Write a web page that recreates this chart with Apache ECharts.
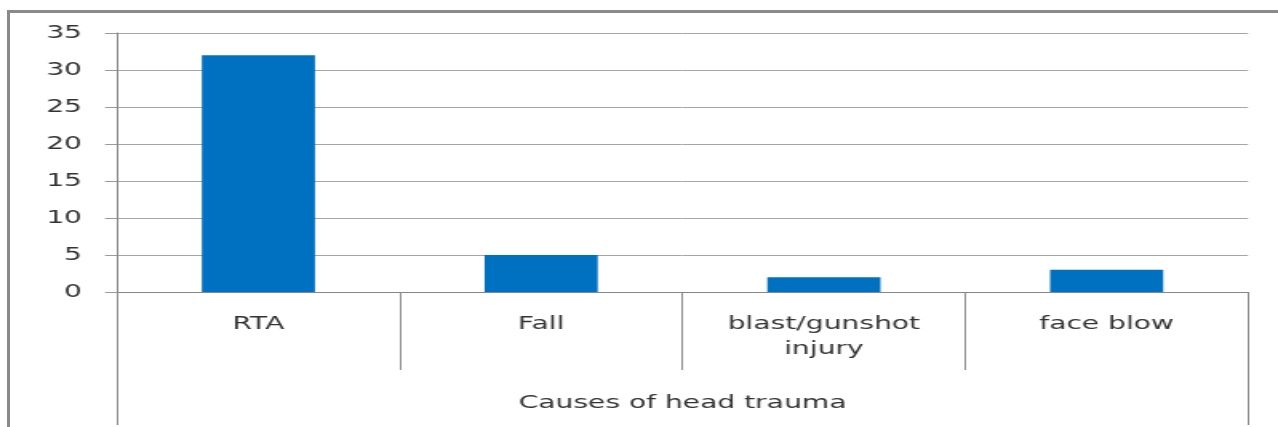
<!DOCTYPE html>
<html>
<head>
<meta charset="utf-8">
<script src="https://cdn.jsdelivr.net/npm/echarts@6/dist/echarts.min.js"></script>
<style>
html,body{margin:0;padding:0;background:#fff;overflow:hidden;width:1278px;height:427px;}
#frame{position:absolute;left:7px;top:10px;width:1280px;height:430px;border-left:3px solid #8a8a8a;border-top:3px solid #8a8a8a;box-sizing:border-box;}
#chart{position:absolute;left:0;top:0;width:799px;height:427px;transform:scaleX(1.5995);transform-origin:0 0;}
</style>
</head>
<body>
<div id="frame"></div>
<div id="chart"></div>
<script>
const categories = ['RTA', 'Fall', 'blast/gunshot\ninjury', 'face blow'];
const values = [32, 5, 2, 3];
const groupLabel = ['Causes of head trauma'];

const S = 1278 / 799;
const chart = echarts.init(document.getElementById('chart'), null, {renderer: 'canvas'});
const textStyle = {color: '#333', fontFamily: 'DejaVu Sans', fontSize: 17.6, lineHeight: 25};
chart.setOption({
  animation: false,
  backgroundColor: 'transparent',
  grid: {left: 117 / S, right: 30 / S, top: 33, bottom: 135, containLabel: false},
  xAxis: [
    {
      type: 'category', data: categories, position: 'bottom',
      axisLine: {show: true, lineStyle: {color: '#868686', width: 1}},
      axisTick: {show: true, length: 78, alignWithLabel: false, lineStyle: {color: '#8c8c8c', width: 1}},
      axisLabel: Object.assign({margin: 20, interval: 0}, textStyle),
      splitLine: {show: false}
    },
    {
      type: 'category', data: groupLabel, position: 'bottom',
      axisLine: {show: false},
      axisTick: {show: true, length: 133, alignWithLabel: false, lineStyle: {color: '#8c8c8c', width: 1}},
      axisLabel: Object.assign({margin: 99}, textStyle),
      splitLine: {show: false}
    }
  ],
  yAxis: {
    type: 'value', min: 0, max: 35, interval: 5,
    axisLine: {show: true, lineStyle: {color: '#868686', width: 1}},
    axisTick: {show: true, length: 12 / S, lineStyle: {color: '#9a9a9a', width: 1}},
    axisLabel: {color: '#333', fontFamily: 'DejaVu Sans', fontSize: 17.6, margin: 35 / S},
    splitLine: {show: true, lineStyle: {color: '#a6a6a6', width: 1}}
  },
  series: [{
    type: 'bar', xAxisIndex: 0, data: values, barWidth: '40%',
    itemStyle: {color: '#0070c0'}
  }]
});
</script>
</body>
</html>
